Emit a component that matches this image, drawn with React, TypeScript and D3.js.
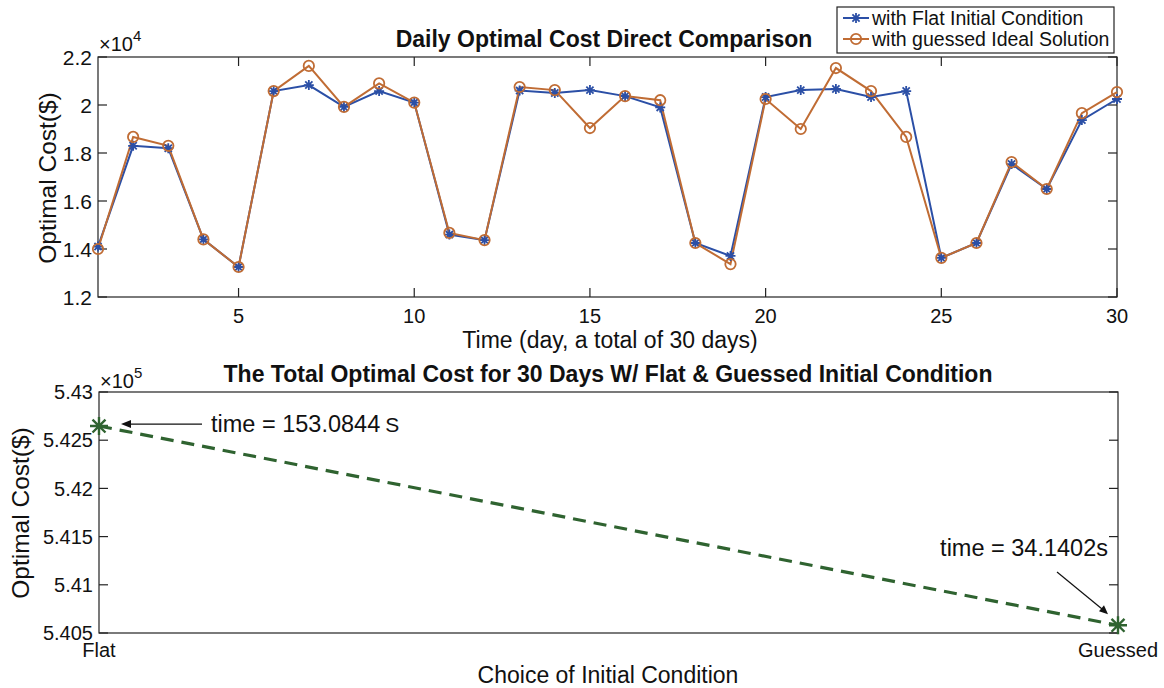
import React from "react";
import * as d3 from "d3";

const days = [1,2,3,4,5,6,7,8,9,10,11,12,13,14,15,16,17,18,19,20,21,22,23,24,25,26,27,28,29,30];
const flatCost = [14100,18300,18200,14400,13250,20580,20830,19920,20580,20100,14600,14370,20600,20500,20620,20370,19900,14250,13710,20330,20620,20670,20330,20580,13630,14250,17540,16500,19370,20250];
const guessedCost = [14000,18670,18300,14400,13250,20580,21630,19920,20900,20100,14670,14370,20750,20620,19040,20370,20200,14250,13370,20250,19000,21540,20580,18670,13630,14250,17620,16500,19660,20540];
const dayTicks = [5,10,15,20,25,30];
const costTicks = [12000,14000,16000,18000,20000,22000];
const seriesNames = ["with Flat Initial Condition", "with guessed Ideal Solution"];

const conditions = ["Flat", "Guessed"];
const totalCost = [542647, 540580];
const solveTimes = ["153.0844", "34.1402"];
const totalTicks = [540500, 541000, 541500, 542000, 542500, 543000];

const BLUE = "#2b4fa6";
const ORANGE = "#c06c34";
const GREEN = "#2f6330";
const FONT = "'Liberation Sans', Arial, Helvetica, sans-serif";

function starPath(r: number) {
  const a = r * 0.72;
  return `M${-r},0L${r},0M0,${-r}L0,${r}M${-a},${-a}L${a},${a}M${-a},${a}L${a},${-a}`;
}

export default function App() {
  // Top chart
  const L = 98, R = 1117, T1 = 57, B1 = 297;
  const x1 = d3.scaleLinear().domain([1, 30]).range([L, R]);
  const y1 = d3.scaleLinear().domain([12000, 22000]).range([B1, T1]);
  const line1 = d3.line<number>().x((_, i) => x1(days[i])).y((d) => y1(d));

  // Bottom chart
  const T2 = 392, B2 = 633;
  const x2 = d3.scalePoint<string>().domain(conditions).range([L + 1, R + 1]);
  const y2 = d3.scaleLinear().domain([540500, 543000]).range([B2, T2]);
  const line2 = d3.line<number>().x((_, i) => x2(conditions[i]) as number).y((d) => y2(d));

  const tk = 9;
  const fmt1 = (v: number) => String(+(v / 1e4).toFixed(1));
  const fmt2 = (v: number) => String(+(v / 1e5).toFixed(3));

  const fy = y2(totalCost[0]);
  const gx = x2("Guessed") as number, gy = y2(totalCost[1]);

  return (
    <svg width={1164} height={688} style={{ position: "absolute", left: 0, top: 0, background: "#fff" }} fontFamily={FONT}>
      <rect x={0} y={0} width={1164} height={688} fill="#fff" />
      {/* ---------- TOP CHART ---------- */}
      <rect x={L} y={T1} width={R - L} height={B1 - T1} fill="none" stroke="#222" strokeWidth={1.2} />
      {dayTicks.map((d) => (
        <g key={"xt" + d}>
          <line x1={x1(d)} x2={x1(d)} y1={B1} y2={B1 - tk} stroke="#222" strokeWidth={1.2} />
          <line x1={x1(d)} x2={x1(d)} y1={T1} y2={T1 + tk} stroke="#222" strokeWidth={1.2} />
          <text x={x1(d)} y={323} textAnchor="middle" fontSize={20} fill="#111">{d}</text>
        </g>
      ))}
      {costTicks.map((v) => (
        <g key={"yt" + v}>
          <line x1={L} x2={L + tk} y1={y1(v)} y2={y1(v)} stroke="#222" strokeWidth={1.2} />
          <line x1={R} x2={R - tk} y1={y1(v)} y2={y1(v)} stroke="#222" strokeWidth={1.2} />
          <text x={92} y={y1(v)} dy="0.36em" textAnchor="end" fontSize={21} fill="#111">{fmt1(v)}</text>
        </g>
      ))}
      <text x={99} y={51} fontSize={20} fill="#111">×10<tspan dy={-10} fontSize={15}>4</tspan></text>
      <text x={604} y={47} textAnchor="middle" fontSize={23} fontWeight="bold" fill="#111">Daily Optimal Cost Direct Comparison</text>
      <text x={610} y={348} textAnchor="middle" fontSize={23} fill="#111">Time (day, a total of 30 days)</text>
      <text transform={`translate(56,178) rotate(-90)`} textAnchor="middle" fontSize={24.5} fill="#111">Optimal Cost($)</text>

      <path d={line1(flatCost) || ""} fill="none" stroke={BLUE} strokeWidth={2} />
      <path d={line1(guessedCost) || ""} fill="none" stroke={ORANGE} strokeWidth={2} />
      {flatCost.map((v, i) => (
        <path key={"fs" + i} d={starPath(5)} transform={`translate(${x1(days[i])},${y1(v)})`} stroke={BLUE} strokeWidth={1.8} fill="none" />
      ))}
      {guessedCost.map((v, i) => (
        <circle key={"gc" + i} cx={x1(days[i])} cy={y1(v)} r={5.2} stroke={ORANGE} strokeWidth={1.8} fill="none" />
      ))}

      {/* legend */}
      <rect x={837} y={7} width={277} height={46} fill="#fff" stroke="#222" strokeWidth={1.2} />
      {seriesNames.map((name, i) => {
        const cy = 18 + i * 21;
        const col = i === 0 ? BLUE : ORANGE;
        return (
          <g key={"lg" + i}>
            <line x1={843} x2={869} y1={cy} y2={cy} stroke={col} strokeWidth={2} />
            {i === 0 ? (
              <path d={starPath(5)} transform={`translate(856,${cy})`} stroke={col} strokeWidth={1.8} fill="none" />
            ) : (
              <circle cx={856} cy={cy} r={5.2} stroke={col} strokeWidth={1.8} fill="none" />
            )}
            <text x={872} y={cy} dy="0.36em" fontSize={19.5} fill="#111">{name}</text>
          </g>
        );
      })}

      {/* ---------- BOTTOM CHART ---------- */}
      <rect x={L + 1} y={T2} width={R - L} height={B2 - T2} fill="none" stroke="#222" strokeWidth={1.2} />
      {totalTicks.map((v) => (
        <g key={"yt2" + v}>
          <line x1={L + 1} x2={L + 1 + tk} y1={y2(v)} y2={y2(v)} stroke="#222" strokeWidth={1.2} />
          <line x1={R + 1} x2={R + 1 - tk} y1={y2(v)} y2={y2(v)} stroke="#222" strokeWidth={1.2} />
          <text x={93} y={y2(v)} dy="0.36em" textAnchor="end" fontSize={20} fill="#111">{fmt2(v)}</text>
        </g>
      ))}
      {conditions.map((c) => (
        <text key={"xl2" + c} x={x2(c) as number} y={657} textAnchor="middle" fontSize={20} fill="#111">{c}</text>
      ))}
      <text x={100} y={388} fontSize={20} fill="#111">×10<tspan dy={-10} fontSize={15}>5</tspan></text>
      <text x={608} y={382} textAnchor="middle" fontSize={23} fontWeight="bold" fill="#111">The Total Optimal Cost for 30 Days W/ Flat &amp; Guessed Initial Condition</text>
      <text x={608} y={683} textAnchor="middle" fontSize={23} fill="#111">Choice of Initial Condition</text>
      <text transform={`translate(29,513) rotate(-90)`} textAnchor="middle" fontSize={24.5} fill="#111">Optimal Cost($)</text>

      <path d={line2(totalCost) || ""} fill="none" stroke={GREEN} strokeWidth={3.2} strokeDasharray="13,8" />
      {totalCost.map((v, i) => (
        <path key={"ts" + i} d={starPath(9)} transform={`translate(${x2(conditions[i])},${y2(v)})`} stroke={GREEN} strokeWidth={2.4} fill="none" />
      ))}

      {/* annotations */}
      <line x1={202} x2={124} y1={fy - 2} y2={fy - 2} stroke="#111" strokeWidth={1.2} />
      <path d={`M${121},${fy - 2}L${131},${fy - 6}L${131},${fy + 2}Z`} fill="#111" />
      <text x={211} y={fy - 2} dy="0.36em" fontSize={23.5} fill="#111">time = {solveTimes[0]}<tspan dx={5} fontSize={21}>S</tspan></text>

      <text x={1108} y={548} dy="0.36em" textAnchor="end" fontSize={23.5} fill="#111">time = {solveTimes[1]}s</text>
      <line x1={1057} y1={572} x2={gx - 12} y2={gy - 13} stroke="#111" strokeWidth={1.2} />
      <path d={`M${gx - 10},${gy - 11}L${gx - 19},${gy - 14}L${gx - 14},${gy - 20}Z`} fill="#111" />
    </svg>
  );
}
